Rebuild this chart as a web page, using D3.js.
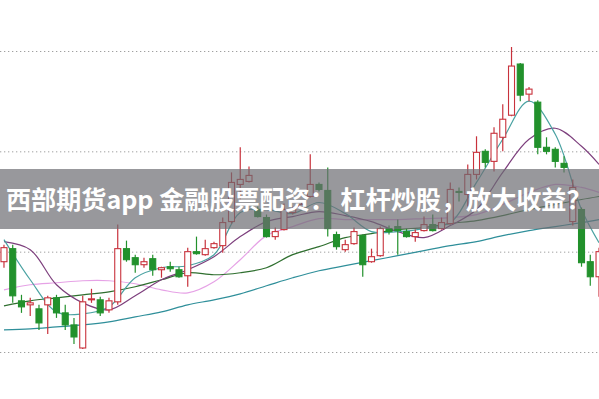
<html>
<head>
  <meta charset="utf-8">
  <script src="https://unpkg.com/d3@7/dist/d3.min.js"></script>
  <style>
    body { margin: 0; background: #fff; }
  </style>
</head>
<body>
  <svg id="container" width="599" height="399"></svg>

<script>
    // daily candles, left to right
    const openP  = [9.90,10.03,9.51,9.47,9.43,9.47,9.54,9.39,9.27,9.04,9.52,9.52,9.42,9.50,10.03,9.94,9.87,9.93,9.82,9.85,9.82,9.76,10.00,9.97,10.04,10.06,10.30,10.67,10.70,10.42,10.34,10.15,10.22,10.39,10.44,10.55,10.67,10.61,10.17,10.02,10.08,10.16,9.90,9.96,10.23,10.25,10.20,10.15,10.21,10.27,10.23,10.28,10.60,10.57,10.77,11.00,10.90,11.14,11.36,11.87,11.57,11.49,11.04,11.02,10.88,10.30,10.42,9.90,9.75];
    const closeP = [10.04,9.56,9.45,9.49,9.29,9.54,9.39,9.27,9.15,9.50,9.53,9.39,9.51,10.03,9.92,9.87,9.90,9.82,9.84,9.83,9.75,10.00,9.98,10.03,10.08,10.29,10.69,10.72,10.76,10.35,10.15,10.20,10.42,10.42,10.47,10.67,10.62,10.23,10.05,10.07,10.20,9.87,9.95,10.23,10.20,10.21,10.15,10.19,10.27,10.21,10.29,10.62,10.59,10.77,10.99,10.89,11.18,11.32,11.85,11.56,11.62,11.04,11.00,10.90,10.84,10.64,9.89,9.75,10.00];
    const highP  = [10.07,10.07,9.57,9.54,9.47,9.56,9.57,9.47,9.34,9.56,9.63,9.55,9.54,10.27,10.11,9.97,9.94,9.97,9.85,9.90,9.85,10.04,10.15,10.12,10.10,10.34,10.79,11.04,10.85,10.45,10.37,10.24,10.48,10.45,10.50,10.97,10.69,10.84,10.20,10.12,10.24,10.17,10.03,10.25,10.26,10.32,10.23,10.22,10.35,10.37,10.34,10.69,10.64,10.87,11.15,11.02,11.24,11.47,12.04,11.88,11.64,11.51,11.14,11.04,10.95,10.72,10.44,9.97,10.04];
    const lowP   = [9.84,9.49,9.39,9.36,9.22,9.18,9.34,9.22,9.08,9.03,9.49,9.36,9.39,9.47,9.90,9.79,9.84,9.76,9.74,9.80,9.74,9.65,9.97,9.96,10.03,9.99,10.28,10.52,10.69,10.34,10.14,10.12,10.21,10.37,10.42,10.54,10.60,10.15,10.02,10.00,10.07,9.75,9.89,9.95,10.17,9.97,10.14,10.10,10.20,10.20,10.22,10.27,10.50,10.45,10.72,10.84,10.80,11.00,11.35,11.50,11.50,10.97,10.97,10.84,10.79,10.26,9.85,9.66,9.55];

    // moving average lines, read at every third candle
    const maIndex = [0,3,6,9,12,15,18,21,24,27,30,33,36,39,42,45,48,51,54,57,60,63,66,68];
    const ma5  = [10.12,9.72,9.40,9.38,9.45,9.74,9.84,9.86,9.97,10.39,10.42,10.38,10.49,10.38,10.20,10.20,10.23,10.29,10.69,11.12,11.50,11.17,10.42,10.09];
    const ma10 = [10.10,10.02,9.67,9.49,9.42,9.56,9.72,9.82,9.95,10.15,10.30,10.35,10.40,10.36,10.30,10.20,10.14,10.26,10.42,10.79,11.12,11.23,11.05,10.87];
    const ma20 = [9.46,9.51,9.54,9.57,9.60,9.65,9.72,9.79,9.77,9.79,9.84,9.97,10.05,10.14,10.18,10.22,10.24,10.28,10.31,10.36,10.42,10.47,10.52,10.55];
    const ma30 = [9.62,9.67,9.69,9.71,9.71,9.68,9.62,9.59,9.70,9.92,10.16,10.25,10.33,10.32,10.32,10.32,10.33,10.34,10.37,10.47,10.59,10.67,10.64,10.59];
    const ma60 = [9.22,9.23,9.25,9.27,9.30,9.35,9.40,9.47,9.52,9.58,9.66,9.74,9.81,9.86,9.91,9.96,10.01,10.06,10.10,10.16,10.21,10.25,10.29,10.32];

    const gridTicks = [9, 10, 11, 12];
    const title = '西部期货app 金融股票配资： 杠杆炒股，放大收益？';

    const width = 599;
    const height = 399;
    const svg = d3.select('#container');

    const candles = openP.map((o, i) => ({i: i, o: o, c: closeP[i], h: highP[i], l: lowP[i]}));

    const xScale = d3.scaleBand()
      .domain(candles.map(d => d.i))
      .range([-0.4, 603.4])
      .padding(0);

    const yScale = d3.scaleLinear()
      .domain([9, 12])
      .range([352, 51]);

    const cx = i => xScale(i) + xScale.bandwidth() / 2;

    // dotted grid
    svg.append('g')
      .attr('class', 'grid')
      .call(d3.axisLeft(yScale)
        .tickValues(gridTicks)
        .tickSize(-width)
        .tickFormat(''))
      .call(g => g.select('.domain').remove())
      .call(g => g.selectAll('line')
        .attr('stroke', '#a0a0a0')
        .attr('stroke-dasharray', '1.3,2.7'));

    // moving averages
    const maSeries = [
      {values: ma60, color: '#2f8f9a'},
      {values: ma30, color: '#e6a2e6'},
      {values: ma20, color: '#2f6f2f'},
      {values: ma10, color: '#7d3f7d'},
      {values: ma5,  color: '#4aa2a2'}
    ];
    const line = d3.line()
      .x((v, k) => cx(maIndex[k]))
      .y(v => yScale(v))
      .curve(d3.curveCatmullRom.alpha(0.5));

    svg.append('g')
      .selectAll('path')
      .data(maSeries)
      .enter()
      .append('path')
      .attr('d', s => line(s.values))
      .attr('fill', 'none')
      .attr('stroke', s => s.color)
      .attr('stroke-width', 1.2);

    // candles
    const up = '#c8323c';
    const down = '#22912c';
    const bodyW = 6;
    const candleGroups = svg.append('g')
      .selectAll('g')
      .data(candles)
      .enter()
      .append('g');

    candleGroups.append('line')
      .attr('x1', d => cx(d.i))
      .attr('x2', d => cx(d.i))
      .attr('y1', d => yScale(d.h))
      .attr('y2', d => yScale(d.l))
      .attr('stroke', d => d.c >= d.o ? up : down)
      .attr('stroke-width', 1.2);

    candleGroups.append('rect')
      .attr('x', d => cx(d.i) - bodyW / 2)
      .attr('y', d => yScale(Math.max(d.o, d.c)))
      .attr('width', bodyW)
      .attr('height', d => Math.max(1, Math.abs(yScale(d.o) - yScale(d.c))))
      .attr('fill', d => d.c >= d.o ? '#fff' : down)
      .attr('stroke', d => d.c >= d.o ? up : down)
      .attr('stroke-width', 1.1);

    // title banner
    svg.append('rect')
      .attr('x', 0)
      .attr('y', 169)
      .attr('width', width)
      .attr('height', 60)
      .attr('fill', 'rgba(108,108,114,0.7)');

    svg.append('text')
      .attr('x', 6)
      .attr('y', 198)
      .attr('dominant-baseline', 'central')
      .attr('fill', '#fff')
      .attr('font-family', '"Noto Sans CJK SC", "Noto Sans", sans-serif')
      .attr('font-weight', 700)
      .attr('font-size', 25.1)
      .text(title);
</script>
</body>
</html>
